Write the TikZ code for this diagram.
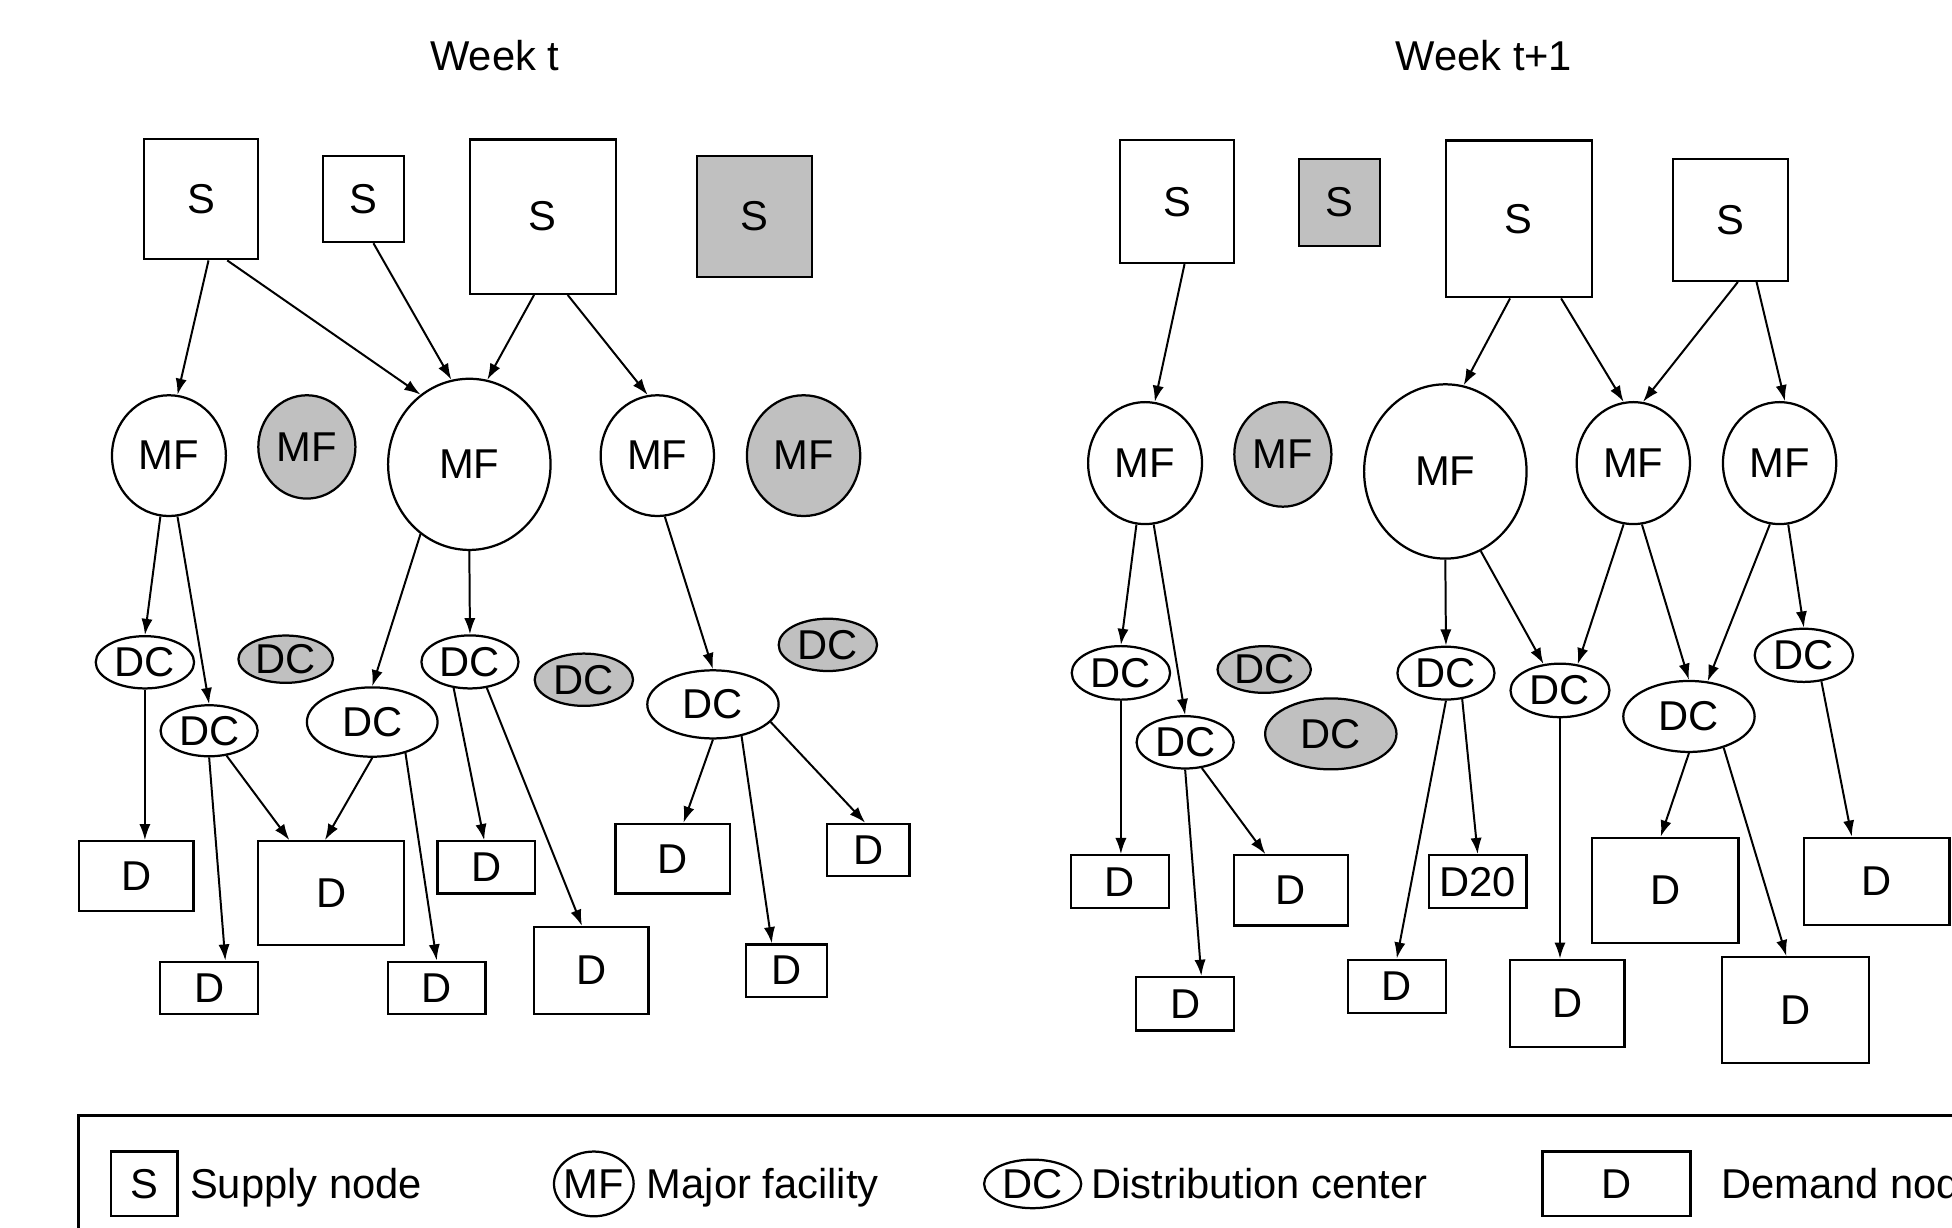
\documentclass[tikz,border=0pt]{standalone}
\usepackage{fontspec}
\setmainfont{Liberation Sans}
\usetikzlibrary{shapes.geometric,arrows.meta,calc}
\definecolor{shade}{RGB}{192,192,192}
\begin{document}
\begin{tikzpicture}[x=1pt,y=-1pt,
  every node/.style={font=\fontsize{33.5}{40}\selectfont, inner sep=0pt},
  rbox/.style={draw, line width=1.8pt, rectangle},
  oval/.style={draw, line width=1.8pt, ellipse},
  off/.style={fill=shade},
  arr/.style={line width=1.6pt, -{Latex[length=13pt,width=9pt]}},
  sz/.style 2 args={minimum width=#1pt, minimum height=#2pt}
]
\useasboundingbox (0,0) rectangle (1568,986);
\fill[white] (0,0) rectangle (1568,986);
\clip (0,0) rectangle (1568,986);

% titles
\node[anchor=base] (T1) at (397.5,57) {Week t};
\node[anchor=base] (T2) at (1192,57) {Week t+1};

% ---------------- Week t ----------------
\node[rbox,sz={92}{96.5}] (S1) at (161.5,160) {S};
\node[rbox,sz={65.5}{69}] (S2) at (292,160) {S};
\node[rbox,sz={117.5}{124}] (S3) at (436,174) {S};
\node[rbox,off,sz={92}{97}] (S4) at (606,174) {S};

\node[oval,sz={91.5}{97}] (MF1) at (135.7,366) {MF};
\node[oval,off,sz={78}{83}] (MF2) at (246.5,359) {MF};
\node[oval,sz={130.5}{137.5}] (MF3) at (377,373) {MF};
\node[oval,sz={91}{97}] (MF4) at (528,366) {MF};
\node[oval,off,sz={91}{97}] (MF5) at (645.5,366) {MF};

\node[oval,sz={79}{42}] (DC1) at (116.4,532) {DC};
\node[oval,off,sz={76}{38}] (DC2) at (229.5,529.5) {DC};
\node[oval,sz={78}{41}] (DC3) at (168,587) {DC};
\node[oval,sz={105}{55.7}] (DC4) at (299,580) {DC};
\node[oval,sz={78}{42.6}] (DC5) at (377.5,531.7) {DC};
\node[oval,off,sz={79}{42}] (DC6) at (469,546) {DC};
\node[oval,sz={105.5}{54.7}] (DC7) at (572.7,565.8) {DC};
\node[oval,off,sz={79}{42}] (DC8) at (665,518) {DC};

\node[rbox,sz={92}{56}] (D1) at (109.5,703.8) {D};
\node[rbox,sz={117.5}{83}] (D2) at (266,717.3) {D};
\node[rbox,sz={78}{42}] (D3) at (390.5,696.8) {D};
\node[rbox,sz={92}{56}] (D4) at (540.5,689.8) {D};
\node[rbox,sz={66}{42}] (D5) at (697.5,682.8) {D};
\node[rbox,sz={79}{41.8}] (D6) at (168,793.4) {D};
\node[rbox,sz={78.5}{41.8}] (D7) at (350.8,793.4) {D};
\node[rbox,sz={92}{69.7}] (D8) at (475,779.5) {D};
\node[rbox,sz={65}{42}] (D9) at (632,779.6) {D};

\draw[arr] ([xshift=6pt]S1.south) -- (MF1.82);
\draw[arr] ([xshift=21pt]S1.south) -- (MF3.125);
\draw[arr] ([xshift=8pt]S2.south) -- (MF3.102);
\draw[arr] ([xshift=-7pt]S3.south) -- (MF3.78);
\draw[arr] ([xshift=20pt]S3.south) -- (MF4.99);
\draw[arr] (MF1.262) -- (DC1.north);
\draw[arr] (MF1.278) -- (DC3.north);
\draw[arr] (MF3.235) -- (DC4.north);
\draw[arr] (MF3.south) -- (DC5.north);
\draw[arr] (MF4.277) -- (DC7.north);
\draw[arr] (DC1.south) -- (DC1.south |- D1.north);
\draw[arr] (DC3.south) -- ([xshift=13pt]D6.north);
\draw[arr] (DC3.305) -- ([xshift=-33.5pt]D2.north);
\draw[arr] (DC4.south) -- ([xshift=-5pt]D2.north);
\draw[arr] (DC4.317) -- (D7.north);
\draw[arr] (DC5.238) -- ([xshift=-1.5pt]D3.north);
\draw[arr] (DC5.303) -- ([xshift=-7.5pt]D8.north);
\draw[arr] (DC7.south) -- ([xshift=8.5pt]D4.north);
\draw[arr] (DC7.312) -- ([xshift=-12pt]D9.north);
\draw[arr] (DC7.343) -- ([xshift=-2.5pt]D5.north);

% ---------------- Week t+1 ----------------
\node[rbox,sz={92}{98.5}] (S5) at (945.5,162) {S};
\node[rbox,off,sz={65.5}{70}] (S6) at (1076,162.6) {S};
\node[rbox,sz={117.5}{126}] (S7) at (1220,175.8) {S};
\node[rbox,sz={92}{98}] (S8) at (1390,176.6) {S};

\node[oval,sz={91.5}{98}] (MF6) at (919.8,372) {MF};
\node[oval,off,sz={78}{84}] (MF7) at (1030.5,365) {MF};
\node[oval,sz={130.5}{140}] (MF8) at (1161,378.7) {MF};
\node[oval,sz={91}{98}] (MF9) at (1312,372) {MF};
\node[oval,sz={91}{98}] (MF10) at (1429.5,372) {MF};

\node[oval,sz={79}{43}] (DC9) at (900.4,540.5) {DC};
\node[oval,off,sz={75}{37.5}] (DC10) at (1015.5,537.8) {DC};
\node[oval,sz={78}{42}] (DC11) at (952,596.3) {DC};
\node[oval,off,sz={105.5}{57}] (DC12) at (1069,589.5) {DC};
\node[oval,sz={78}{42.4}] (DC13) at (1161.5,540.7) {DC};
\node[oval,sz={79.5}{43}] (DC14) at (1253.1,554.6) {DC};
\node[oval,sz={105.5}{57}] (DC15) at (1356.7,575.5) {DC};
\node[oval,sz={79}{42.7}] (DC16) at (1449,526.4) {DC};

\node[rbox,sz={79}{42.4}] (D10) at (899.5,708.2) {D};
\node[rbox,sz={91}{56.3}] (D11) at (1037,715.2) {D};
\node[rbox,sz={78.5}{42.4}] (D12) at (1187,708.2) {D20};
\node[rbox,sz={118}{84.5}] (D13) at (1337.5,715.2) {D};
\node[rbox,sz={117}{70}] (D14) at (1507.5,708) {D};
\node[rbox,sz={79}{43}] (D15) at (952,806.3) {D};
\node[rbox,sz={79}{43}] (D16) at (1122,792.4) {D};
\node[rbox,sz={92}{70}] (D17) at (1259,806) {D};
\node[rbox,sz={118}{85}] (D18) at (1442.5,811.5) {D};

\draw[arr] ([xshift=6pt]S5.south) -- (MF6.81);
\draw[arr] ([xshift=-7pt]S7.south) -- (MF8.78);
\draw[arr] ([xshift=34pt]S7.south) -- (MF9.99);
\draw[arr] ([xshift=6pt]S8.south) -- (MF9.81);
\draw[arr] ([xshift=21pt]S8.south) -- (MF10.85);
\draw[arr] (MF6.262) -- (DC9.north);
\draw[arr] (MF6.278) -- (DC11.north);
\draw[arr] (MF8.south) -- (DC13.north);
\draw[arr] (MF8.294) -- (DC14.122);
\draw[arr] (MF9.261) -- (DC14.56);
\draw[arr] (MF9.278) -- (DC15.north);
\draw[arr] (MF10.261) -- (DC15.62);
\draw[arr] (MF10.278) -- (DC16.north);
\draw[arr] (DC9.south) -- (DC9.south |- D10.north);
\draw[arr] (DC11.south) -- ([xshift=13pt]D15.north);
\draw[arr] (DC11.303) -- ([xshift=-20.5pt]D11.north);
\draw[arr] (DC13.south) -- (D16.north);
\draw[arr] (DC13.302) -- (D12.north);
\draw[arr] (DC14.south) -- (DC14.south |- D17.north);
\draw[arr] (DC15.south) -- ([xshift=-3.5pt]D13.north);
\draw[arr] (DC15.318) -- ([xshift=-7.5pt]D18.north);
\draw[arr] (DC16.304) -- ([xshift=-20pt]D14.north);

% ---------------- legend ----------------
\draw[line width=1.8pt] (63,896) rectangle (1700,1100);
\node[rbox,sz={53.5}{52}] (LS) at (115.8,951) {S};
\node[anchor=base west] (LSt) at (152.5,963) {Supply node};
\node[oval,sz={64}{52}] (LMF) at (477,951) {};
\node (LMFt) at (LMF) {MF};
\node[anchor=base west] (LMFl) at (519.5,963) {Major facility};
\node[oval,sz={78}{39}] (LDC) at (829.5,951) {DC};
\node[anchor=base west] (LDCl) at (876.5,963) {Distribution center};
\node[rbox,sz={119}{52}] (LD) at (1298.5,951) {D};
\node[anchor=base west] (LDl) at (1382.5,963) {Demand node};
\end{tikzpicture}
\end{document}
